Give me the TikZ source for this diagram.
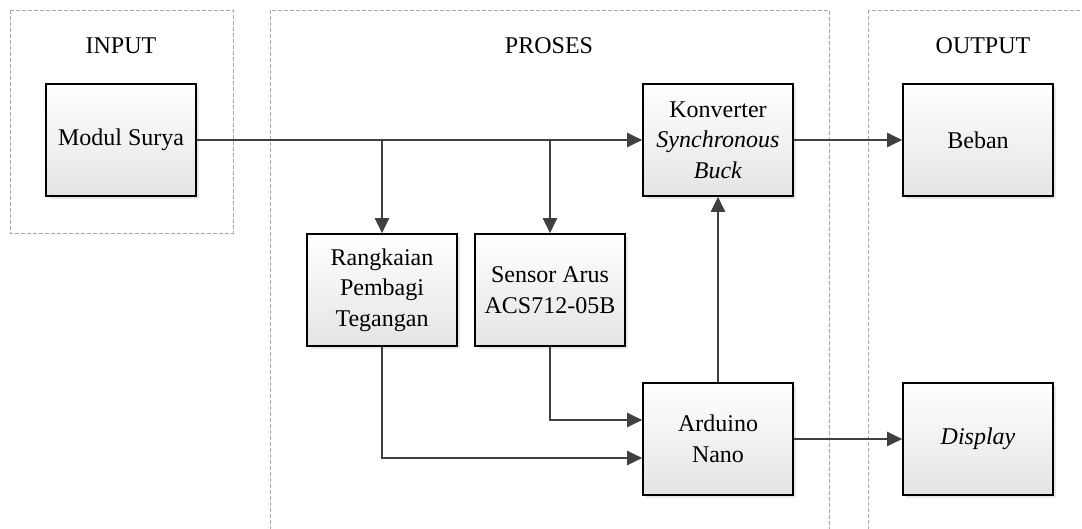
\documentclass[tikz,border=0pt]{standalone}
\usepackage{fontspec}
\setmainfont{Liberation Serif}
\usetikzlibrary{arrows.meta,shadows}
\definecolor{linegray}{HTML}{404040}
\definecolor{groupgray}{HTML}{A8A8A8}
\definecolor{boxbot}{HTML}{E4E4E4}
\tikzset{
  blockbox/.style={draw=black, line width=1.6pt, top color=white, bottom color=boxbot,
    minimum width=150pt, minimum height=112pt, align=center, inner sep=0pt,
    font=\fontsize{24}{30.5}\selectfont,
    drop shadow={shadow xshift=3pt, shadow yshift=-3pt, opacity=0.18, fill=gray}},
  groupbox/.style={draw=groupgray, line width=0.8pt, dash pattern=on 4pt off 2pt},
  grouptitle/.style={font=\fontsize{24}{28}\selectfont},
  conn/.style={draw=linegray, line width=2pt, -{Triangle[length=15pt,width=14pt]}},
}
\begin{document}
\begin{tikzpicture}[x=1pt,y=-1pt]
\clip (0,0) rectangle (1082,529);
\fill[white] (0,0) rectangle (1082,529);
% groups
\draw[groupbox] (10,10) rectangle (233,233);
\draw[groupbox] (270,10) rectangle (829,540);
\draw[groupbox] (868,10) rectangle (1095,540);
\node[grouptitle] (tin) at (121,46) {INPUT};
\node[grouptitle] (tpr) at (549,46) {PROSES};
\node[grouptitle] (tout) at (983,46) {OUTPUT};
% blocks
\node[blockbox] (modul) at (121,140) {Modul Surya};
\node[blockbox] (konv) at (718,140) {Konverter\\\textit{Synchronous}\\\textit{Buck}};
\node[blockbox] (beban) at (978,140) {Beban};
\node[blockbox] (rang) at (382,290) {Rangkaian\\Pembagi\\Tegangan};
\node[blockbox] (sens) at (550,290) {Sensor Arus\\ACS712-05B};
\node[blockbox] (ard) at (718,439) {Arduino\\Nano};
\node[blockbox] (disp) at (978,439) {\textit{Display}};
% connectors
\coordinate (j1) at (rang.north |- modul.east);
\coordinate (j2) at (sens.north |- modul.east);
\draw[conn] (modul.east) -- (konv.west);
\draw[conn] (j1) -- (rang.north);
\draw[conn] (j2) -- (sens.north);
\draw[conn] (konv.east) -- (beban.west);
\draw[conn] (ard.north) -- (konv.south);
\coordinate (s1) at (sens.south |- 0,420);
\coordinate (r1) at (rang.south |- 0,458);
\draw[conn] (sens.south) -- (s1) -- (ard.west |- s1);
\draw[conn] (rang.south) -- (r1) -- (ard.west |- r1);
\draw[conn] (ard.east) -- (disp.west);
\end{tikzpicture}
\end{document}
